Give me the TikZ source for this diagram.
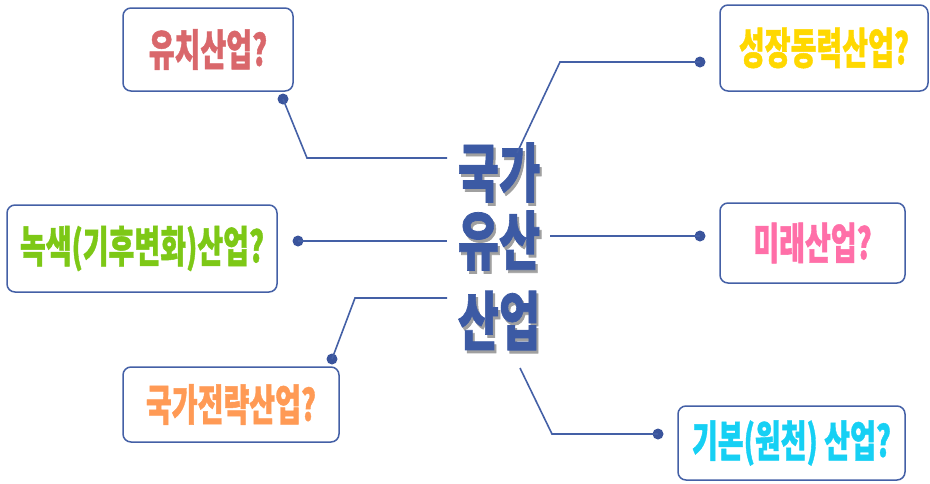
\documentclass[tikz,border=0pt]{standalone}
\usepackage{fontspec}
\setmainfont{Noto Sans CJK KR}[BoldFeatures={FakeBold=1.2}]
\definecolor{lineblue}{HTML}{4460A6}
\definecolor{dotblue}{HTML}{3A549C}
\definecolor{ctrblue}{HTML}{3C5AA4}
\definecolor{shgray}{HTML}{A0A0A0}
\definecolor{tred}{HTML}{D9676B}
\definecolor{tyellow}{HTML}{FFD800}
\definecolor{tgreen}{HTML}{7DC816}
\definecolor{tpink}{HTML}{FF6FA8}
\definecolor{torange}{HTML}{FF9A55}
\definecolor{tcyan}{HTML}{16D0F4}
\newcommand\myxs[1]{\scalebox{0.78}[1.2]{#1}}
\newcommand\mycx[1]{\scalebox{0.70}[1]{\makebox[0pt][l]{\kern3pt\raisebox{-3pt}{\textcolor{shgray}{#1}}}#1}}
\begin{document}
\begin{tikzpicture}[x=1pt,y=-1pt,
  box/.style={draw=lineblue, line width=1.5pt, rounded corners=8pt, fill=white, inner sep=0pt,
    font=\bfseries\fontsize{36}{40}\selectfont},
  conn/.style={draw=lineblue, line width=1.6pt},
  dotnode/.style={circle, fill=dotblue, inner sep=0pt, minimum size=11pt},
  ctr/.style={inner sep=0pt, text=ctrblue, font=\bfseries\fontsize{64}{70}\selectfont}]
\useasboundingbox (0,0) rectangle (930,483);
% boxes
\node[box, minimum width=170pt, minimum height=83pt, text=tred] (b1) at (208,49.5) {\myxs{유치산업?}};
\node[box, minimum width=208pt, minimum height=86pt, text=tyellow] (b2) at (824,48) {\myxs{성장동력산업?}};
\node[box, minimum width=270pt, minimum height=87pt, text=tgreen] (b3) at (142,248.5) {\myxs{녹색(기후변화)산업?}};
\node[box, minimum width=185pt, minimum height=80pt, text=tpink] (b4) at (812.5,243) {\myxs{미래산업?}};
\node[box, minimum width=216pt, minimum height=75pt, text=torange] (b5) at (231,404.5) {\myxs{국가전략산업?}};
\node[box, minimum width=227pt, minimum height=74pt, text=tcyan] (b6) at (791.5,443) {\myxs{기본(원천) 산업?}};
% central text with shadow
\node[ctr] (c1) at (499,174) {\mycx{국가}};
\node[ctr] (c2) at (499,242) {\mycx{유산}};
\node[ctr] (c3) at (499,322) {\mycx{산업}};
% dots
\node[dotnode] (d1) at (283,99) {};
\node[dotnode] (d2) at (700,62) {};
\node[dotnode] (d3) at (298,241) {};
\node[dotnode] (d4) at (700,236) {};
\node[dotnode] (d5) at (332,359) {};
\node[dotnode] (d6) at (658,434) {};
% bends and free ends
\coordinate (k1) at (307,158);
\coordinate (e1) at (447,158);
\coordinate (k2) at (560,62);
\coordinate (e2) at (517,153);
\coordinate (e3) at (447,241);
\coordinate (e4) at (550,236);
\coordinate (k5) at (355,298);
\coordinate (e5) at (447,298);
\coordinate (e6) at (520,368);
\coordinate (k6) at (552,434);
% connectors
\draw[conn] (d1.center) -- (k1) -- (e1);
\draw[conn] (d2.center) -- (k2) -- (e2);
\draw[conn] (d3.center) -- (e3);
\draw[conn] (e4) -- (d4.center);
\draw[conn] (d5.center) -- (k5) -- (e5);
\draw[conn] (e6) -- (k6) -- (d6.center);
\end{tikzpicture}
\end{document}
